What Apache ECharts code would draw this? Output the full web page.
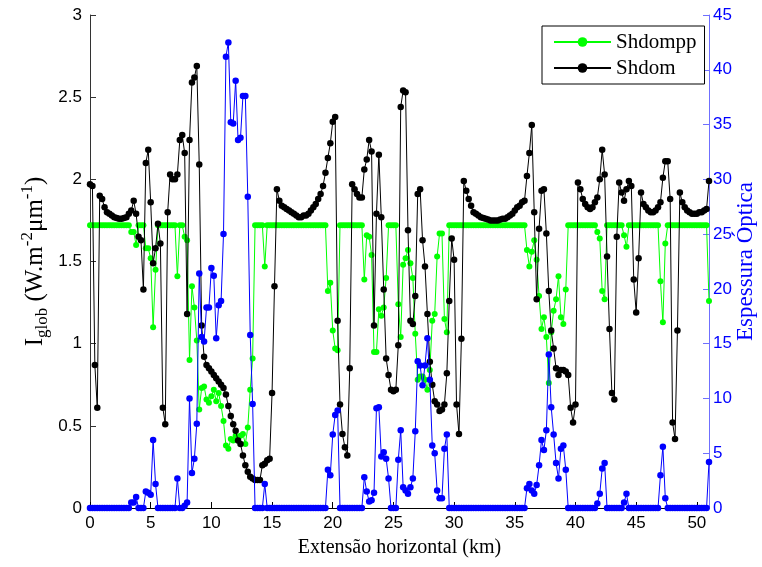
<!DOCTYPE html>
<html>
<head>
<meta charset="utf-8">
<script src="https://cdn.jsdelivr.net/npm/echarts@6/dist/echarts.min.js"></script>
<style>
  html, body { margin: 0; padding: 0; background: #fff; overflow: hidden; }
  #chart { width: 762px; height: 567px; }
</style>
</head>
<body>
<div id="chart"></div>
<script>
// Sampling step along the horizontal transect (km)
const STEP_KM = 0.2;

// Global irradiance, full 3D solver (W m^-2 um^-1)
const shdom = [
  1.97, 1.96, 0.87, 0.61, 1.90, 1.88, 1.83, 1.80, 1.79, 1.78,
  1.77, 1.765, 1.76, 1.76, 1.765, 1.77, 1.79, 1.81, 1.87, 1.79,
  1.65, 1.63, 1.33, 2.10, 2.18, 1.86, 1.49, 1.58, 1.73, 1.61,
  0.61, 0.51, 1.80, 2.03, 2.00, 2.00, 2.03, 2.24, 2.27, 2.16,
  1.18, 2.24, 2.59, 2.62, 2.69, 2.09, 1.11, 0.92, 0.87, 0.85,
  0.83, 0.81, 0.79, 0.77, 0.75, 0.73, 0.69, 0.62, 0.56, 0.51,
  0.47, 0.41, 0.39, 0.32, 0.26, 0.22, 0.19, 0.18, 0.17, 0.17,
  0.17, 0.26, 0.27, 0.29, 0.30, 0.70, 1.35, 1.94, 1.87, 1.84,
  1.83, 1.82, 1.81, 1.80, 1.79, 1.78, 1.77, 1.77, 1.78, 1.78,
  1.79, 1.81, 1.83, 1.85, 1.88, 1.91, 1.96, 2.04, 2.13, 2.22,
  2.35, 2.38, 1.14, 0.63, 0.45, 0.37, 0.32, 0.85, 1.97, 1.94,
  1.91, 1.89, 1.89, 2.06, 2.12, 2.24, 2.17, 1.11, 1.79, 2.15,
  1.77, 1.33, 0.91, 0.81, 0.72, 0.71, 0.72, 0.99, 2.44, 2.54,
  2.53, 1.69, 1.14, 1.12, 1.29, 1.91, 1.94, 1.63, 1.47, 1.18,
  0.89, 0.75, 0.65, 0.63, 0.59, 0.60, 0.63, 0.82, 1.26, 1.64,
  1.51, 0.63, 0.45, 1.03, 1.99, 1.93, 1.88, 1.84, 1.80, 1.79,
  1.78, 1.77, 1.765, 1.76, 1.755, 1.75, 1.75, 1.75, 1.75, 1.755,
  1.76, 1.76, 1.77, 1.78, 1.79, 1.81, 1.83, 1.84, 1.86, 1.87,
  2.02, 2.16, 2.33, 1.80, 1.27, 1.70, 1.93, 1.94, 1.67, 1.32,
  1.08, 0.97, 0.85, 0.81, 0.84, 0.84, 0.83, 0.81, 0.61, 0.52,
  0.63, 1.98, 1.94, 1.88, 1.85, 1.83, 1.82, 1.83, 1.86, 1.89,
  2.00, 2.18, 2.03, 1.53, 1.09, 0.70, 0.66, 1.65, 1.98, 1.92,
  1.87, 1.94, 1.99, 1.96, 1.39, 1.19, 1.52, 1.92, 1.85, 1.83,
  1.81, 1.80, 1.80, 1.81, 1.83, 1.86, 2.01, 2.11, 2.11, 1.88,
  0.52, 0.42, 1.08, 1.92, 1.86, 1.83, 1.81, 1.80, 1.79, 1.79,
  1.79, 1.80, 1.80, 1.81, 1.82, 1.99
];

// Global irradiance, independent pixel approximation (W m^-2 um^-1)
const shdompp = [
  1.72, 1.72, 1.72, 1.72, 1.72, 1.72, 1.72, 1.72, 1.72, 1.72,
  1.72, 1.72, 1.72, 1.72, 1.72, 1.72, 1.72, 1.68, 1.68, 1.60,
  1.72, 1.72, 1.72, 1.58, 1.58, 1.52, 1.10, 1.45, 1.72, 1.72,
  1.72, 1.72, 1.72, 1.72, 1.72, 1.72, 1.41, 1.72, 1.72, 1.65,
  1.63, 0.90, 1.35, 1.22, 1.02, 0.60, 0.73, 0.74, 0.66, 0.64,
  0.68, 0.72, 0.65, 0.70, 0.62, 0.53, 0.38, 0.36, 0.42, 0.41,
  0.44, 0.43, 0.44, 0.45, 0.39, 0.49, 0.72, 0.91, 1.72, 1.72,
  1.72, 1.72, 1.47, 1.72, 1.72, 1.72, 1.72, 1.72, 1.72, 1.72,
  1.72, 1.72, 1.72, 1.72, 1.72, 1.72, 1.72, 1.72, 1.72, 1.72,
  1.72, 1.72, 1.72, 1.72, 1.72, 1.72, 1.72, 1.72, 1.32, 1.37,
  1.08, 0.97, 0.96, 1.72, 1.72, 1.72, 1.72, 1.72, 1.72, 1.72,
  1.72, 1.72, 1.72, 1.39, 1.66, 1.65, 1.54, 0.95, 0.95, 1.21,
  1.17, 1.22, 1.40, 1.72, 1.72, 1.72, 1.72, 1.24, 1.04, 1.48,
  1.52, 1.57, 1.49, 1.40, 1.06, 0.78, 0.80, 0.80, 0.78, 0.72,
  0.84, 1.14, 1.18, 1.53, 1.67, 1.67, 1.15, 1.07, 1.72, 1.72,
  1.72, 1.72, 1.72, 1.72, 1.72, 1.72, 1.72, 1.72, 1.72, 1.72,
  1.72, 1.72, 1.72, 1.72, 1.72, 1.72, 1.72, 1.72, 1.72, 1.72,
  1.72, 1.72, 1.72, 1.72, 1.72, 1.72, 1.72, 1.72, 1.72, 1.72,
  1.57, 1.47, 1.56, 1.63, 1.51, 1.29, 1.09, 1.16, 1.04, 0.76,
  1.07, 1.20, 1.27, 1.41, 1.16, 1.12, 1.33, 1.72, 1.72, 1.72,
  1.72, 1.72, 1.72, 1.72, 1.72, 1.72, 1.72, 1.72, 1.72, 1.68,
  1.64, 1.32, 1.27, 1.72, 1.72, 1.72, 1.72, 1.72, 1.72, 1.72,
  1.66, 1.59, 1.72, 1.72, 1.72, 1.72, 1.72, 1.72, 1.72, 1.72,
  1.72, 1.72, 1.72, 1.72, 1.72, 1.38, 1.13, 1.61, 1.72, 1.72,
  1.72, 1.72, 1.72, 1.72, 1.72, 1.72, 1.72, 1.72, 1.72, 1.72,
  1.72, 1.72, 1.72, 1.72, 1.72, 1.26
];

// Cloud optical thickness along the transect (right axis)
const opticalDepth = [
  0, 0, 0, 0, 0, 0, 0, 0, 0, 0,
  0, 0, 0, 0, 0, 0, 0, 0.5, 0.5, 1.0,
  0, 0, 0, 1.5, 1.4, 1.2, 6.2, 2.2, 0, 0,
  0, 0, 0, 0, 0, 0, 2.7, 0, 0, 0.2,
  0.5, 10.0, 3.2, 4.5, 7.7, 21.4, 15.6, 15.2, 18.3, 18.3,
  21.9, 21.2, 15.5, 18.5, 18.9, 25.0, 41.2, 42.5, 35.2, 35.1,
  39.0, 33.6, 33.8, 37.6, 37.6, 28.4, 15.8, 9.5, 0, 0,
  0, 0, 2.2, 0, 0, 0, 0, 0, 0, 0,
  0, 0, 0, 0, 0, 0, 0, 0, 0, 0,
  0, 0, 0, 0, 0, 0, 0, 0, 3.5, 3.0,
  6.7, 8.5, 8.9, 0, 0, 0, 0, 0, 0, 0,
  0, 0, 0, 2.8, 1.5, 0.6, 0.7, 1.4, 9.1, 9.2,
  4.7, 5.1, 4.5, 2.7, 0, 0, 0, 4.4, 7.1, 1.9,
  1.6, 1.3, 1.9, 2.7, 7.0, 13.4, 13.0, 11.2, 13.0, 15.5,
  11.7, 5.7, 5.0, 1.6, 0.9, 0.9, 5.4, 6.7, 0, 0,
  0, 0, 0, 0, 0, 0, 0, 0, 0, 0,
  0, 0, 0, 0, 0, 0, 0, 0, 0, 0,
  0, 0, 0, 0, 0, 0, 0, 0, 0, 0,
  1.8, 2.2, 1.6, 1.3, 2.1, 3.9, 6.2, 5.3, 7.1, 14.0,
  9.2, 6.7, 4.1, 2.7, 5.4, 5.7, 3.5, 0, 0, 0,
  0, 0, 0, 0, 0, 0, 0, 0, 0, 0.4,
  1.3, 3.6, 4.1, 0, 0, 0, 0, 0, 0, 0,
  0.5, 1.3, 0, 0, 0, 0, 0, 0, 0, 0,
  0, 0, 0, 0, 0, 3.0, 5.6, 0.9, 0, 0,
  0, 0, 0, 0, 0, 0, 0, 0, 0, 0,
  0, 0, 0, 0, 0, 4.2
];

// Sample positions along the transect (km)
const distanceKm = shdom.map((_, i) => Math.round(i * STEP_KM * 10) / 10);
const toPairs = values => values.map((v, i) => [distanceKm[i], v]);

const SANS = '"Liberation Sans", Arial, sans-serif';
const SERIF = '"Liberation Serif", "Times New Roman", serif';

const chart = echarts.init(document.getElementById('chart'), null, { renderer: 'canvas' });

chart.setOption({
  animation: false,
  backgroundColor: '#ffffff',
  grid: { left: 90, right: 53, top: 15, bottom: 59, containLabel: false, outerBoundsMode: 'none' },
  legend: {
    orient: 'vertical',
    left: 542,
    top: 26,
    data: ['Shdompp', 'Shdom'],
    backgroundColor: '#ffffff',
    borderColor: '#000000',
    borderWidth: 1,
    borderRadius: 0,
    padding: [5, 8, 5, 11],
    itemGap: 4,
    itemWidth: 57,
    itemHeight: 12,
    textStyle: { fontFamily: SERIF, fontSize: 21, color: '#000', lineHeight: 22 }
  },
  xAxis: {
    type: 'value',
    min: 0,
    max: 51,
    interval: 5,
    name: 'Extensão horizontal (km)',
    nameLocation: 'middle',
    nameGap: 30,
    nameMoveOverlap: false,
    nameTextStyle: { fontFamily: SERIF, fontSize: 20, color: '#000' },
    axisLine: { show: true, onZero: false, lineStyle: { color: '#000', width: 1 } },
    axisTick: { show: true, inside: true, length: 6, lineStyle: { color: '#000' } },
    axisLabel: { fontFamily: SANS, fontSize: 17, color: '#000', margin: 7, showMaxLabel: false },
    splitLine: { show: false }
  },
  yAxis: [
    {
      type: 'value',
      position: 'left',
      min: 0,
      max: 3,
      interval: 0.5,
      name: 'I{sub|glob} (W.m{sup|-2}μm{sup|-1})',
      nameLocation: 'middle',
      nameRotate: 90,
      nameGap: 39,
      nameMoveOverlap: false,
      nameTextStyle: {
        fontFamily: SERIF, fontSize: 25, color: '#000', lineHeight: 32,
        rich: {
          sub: { fontFamily: SERIF, fontSize: 17, color: '#000', verticalAlign: 'bottom' },
          sup: { fontFamily: SERIF, fontSize: 17, color: '#000', verticalAlign: 'top' }
        }
      },
      axisLine: { show: true, onZero: false, lineStyle: { color: '#333', width: 1 } },
      axisTick: { show: true, inside: true, length: 6, lineStyle: { color: '#333' } },
      axisLabel: { fontFamily: SANS, fontSize: 17, color: '#000', margin: 8 },
      splitLine: { show: false }
    },
    {
      type: 'value',
      position: 'right',
      min: 0,
      max: 45,
      interval: 5,
      name: 'Espessura Óptica',
      nameLocation: 'middle',
      nameRotate: 90,
      nameGap: 25,
      nameMoveOverlap: false,
      nameTextStyle: { fontFamily: SERIF, fontSize: 23, color: '#0000ff' },
      axisLine: { show: true, onZero: false, lineStyle: { color: '#6f6fff', width: 1 } },
      axisTick: { show: true, inside: true, length: 6, lineStyle: { color: '#6f6fff' } },
      axisLabel: { fontFamily: SANS, fontSize: 17, color: '#0000ff', margin: 4 },
      splitLine: { show: false }
    }
  ],
  series: [
    {
      name: 'Shdompp',
      type: 'line',
      yAxisIndex: 0,
      data: toPairs(shdompp),
      symbol: 'circle',
      symbolSize: 6,
      lineStyle: { color: '#00ff00', width: 1 },
      itemStyle: { color: '#00ff00' },
      emphasis: { disabled: true },
      z: 2
    },
    {
      name: 'Shdom',
      type: 'line',
      yAxisIndex: 0,
      data: toPairs(shdom),
      symbol: 'circle',
      symbolSize: 6.5,
      lineStyle: { color: '#000000', width: 1 },
      itemStyle: { color: '#000000' },
      emphasis: { disabled: true },
      z: 3
    },
    {
      name: 'Espessura Óptica',
      type: 'line',
      yAxisIndex: 1,
      data: toPairs(opticalDepth),
      symbol: 'circle',
      symbolSize: 6.5,
      lineStyle: { color: '#0000ff', width: 1 },
      itemStyle: { color: '#0000ff' },
      emphasis: { disabled: true },
      z: 4
    }
  ]
});
</script>
</body>
</html>
